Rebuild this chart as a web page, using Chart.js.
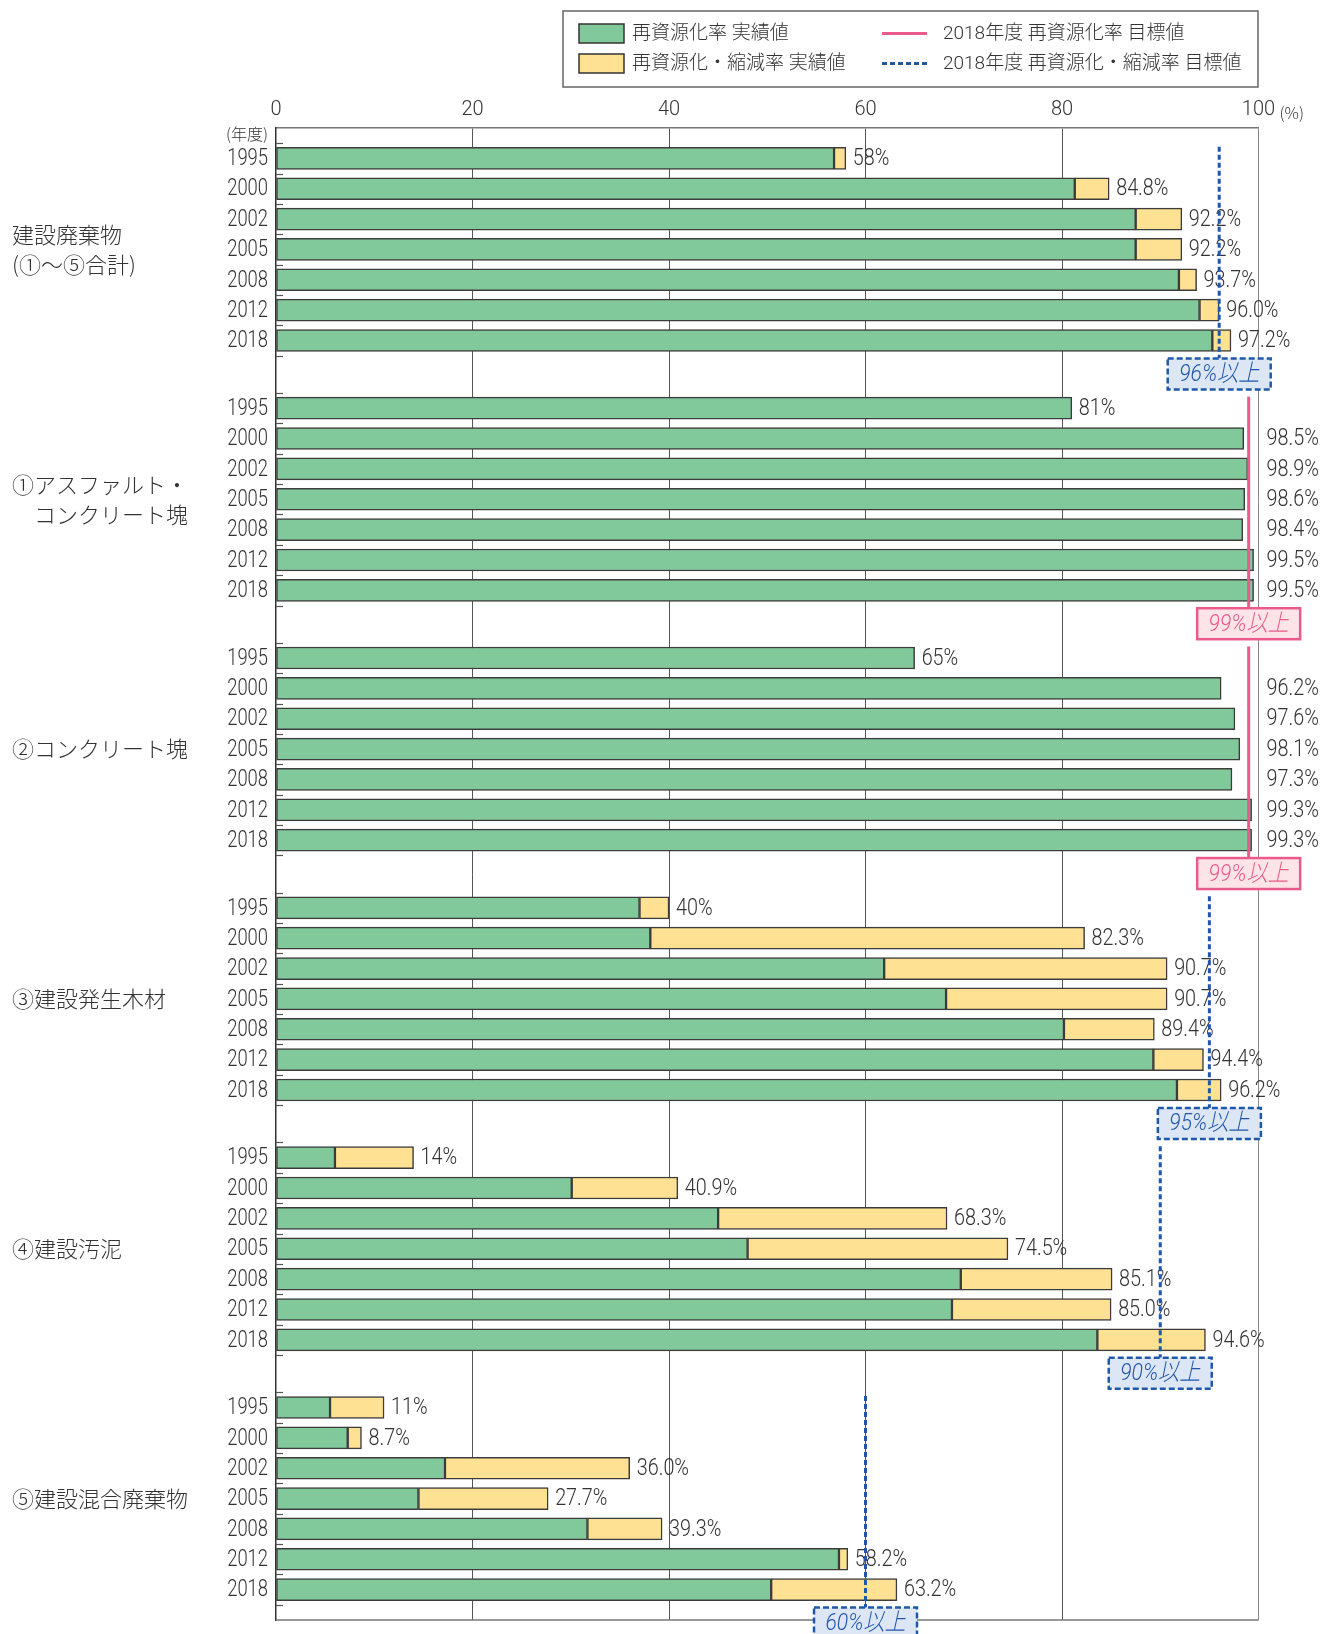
<!DOCTYPE html>
<html lang="ja">
<head>
<meta charset="utf-8">
<title>建設廃棄物の品目別再資源化率等の推移</title>
<script src="https://cdn.jsdelivr.net/npm/chart.js@4.4.1/dist/chart.umd.min.js"></script>
<style>
  html, body { margin: 0; padding: 0; background: #fff; }
  #wrap { position: relative; width: 1322px; height: 1634px; }
</style>
</head>
<body>
<div id="wrap"><canvas id="chart"></canvas></div>
<script>
// 年度
const years = ['1995', '2000', '2002', '2005', '2008', '2012', '2018'];

// 品目（左側の見出し、行ごと）
const groupNames = [
  ['建設廃棄物', '(①〜⑤合計)'],
  ['①アスファルト・', '\u3000コンクリート塊'],
  ['②コンクリート塊'],
  ['③建設発生木材'],
  ['④建設汚泥'],
  ['⑤建設混合廃棄物']
];

// 再資源化率 実績値 (%)
const totalRecycle    = [56.8, 81.3, 87.5, 87.5, 91.9, 94.0, 95.3];
const asphaltRecycle  = [81, 98.5, 98.9, 98.6, 98.4, 99.5, 99.5];
const concreteRecycle = [65, 96.2, 97.6, 98.1, 97.3, 99.3, 99.3];
const woodRecycle     = [37.0, 38.1, 61.9, 68.2, 80.2, 89.3, 91.7];
const sludgeRecycle   = [6.0, 30.1, 45.0, 48.0, 69.7, 68.8, 83.6];
const mixedRecycle    = [5.5, 7.3, 17.2, 14.5, 31.7, 57.3, 50.4];

// 再資源化・縮減率 実績値 (%)
const totalReduce  = [58, 84.8, 92.2, 92.2, 93.7, 96.0, 97.2];
const woodReduce   = [40, 82.3, 90.7, 90.7, 89.4, 94.4, 96.2];
const sludgeReduce = [14, 40.9, 68.3, 74.5, 85.1, 85.0, 94.6];
const mixedReduce  = [11, 8.7, 36.0, 27.7, 39.3, 58.2, 63.2];

// 2018年度 目標値 (%)
const targetRecycle = [null, 99, 99, null, null, null];
const targetReduce  = [96, null, null, 95, 90, 60];

// x軸目盛
const xTicks = [0, 20, 40, 60, 80, 100];

const groupRecycle = [totalRecycle, asphaltRecycle, concreteRecycle, woodRecycle, sludgeRecycle, mixedRecycle];
const groupReduce  = [totalReduce, null, null, woodReduce, sludgeReduce, mixedReduce];

const GREEN = '#81c99b';
const YELLOW = '#fee193';
const PINK = '#ea5a8b';
const BLUE = '#1f58a9';
const TEXT = '#333';
const NUM_FONT = "Roboto, 'Noto Sans CJK JP', sans-serif";
const JP_FONT = "'Noto Sans CJK JP', sans-serif";

// 品目ブロックの間隔（棒1本分を1とする）
const GROUP_STEP = 8.23;

const slots = [];
groupNames.forEach((_, g) => {
  years.forEach((year, i) => slots.push({ g, i, year, pos: g * GROUP_STEP + i }));
});
const yMin = -1;
const yMax = (groupNames.length - 1) * GROUP_STEP + years.length;

const greenData = slots.map(s => ({ x: groupRecycle[s.g][s.i], y: s.pos }));
const yellowData = slots
  .filter(s => groupReduce[s.g])
  .map(s => ({ x: [groupRecycle[s.g][s.i], groupReduce[s.g][s.i]], y: s.pos }));

function fmt(v, i) {
  return (i === 0 ? v.toFixed(0) : v.toFixed(1)) + '%';
}

// 横方向に詰めた文字
function narrowText(ctx, text, x, y, squeeze) {
  ctx.save();
  ctx.translate(x, y);
  ctx.scale(squeeze, 1);
  ctx.fillText(text, 0, 0);
  ctx.restore();
}

function drawBox(ctx, cx, cy, text, color, fill, dashed) {
  const w = 103, h = 31;
  ctx.save();
  ctx.fillStyle = fill;
  ctx.fillRect(cx - w / 2, cy - h / 2, w, h);
  ctx.strokeStyle = color;
  ctx.lineWidth = 2.5;
  ctx.setLineDash(dashed ? [6, 3] : []);
  ctx.strokeRect(cx - w / 2, cy - h / 2, w, h);
  ctx.setLineDash([]);
  ctx.fillStyle = color;
  ctx.font = 'italic 300 24px ' + NUM_FONT;
  ctx.textAlign = 'center';
  ctx.textBaseline = 'middle';
  narrowText(ctx, text, cx, cy + 1, 0.88);
  ctx.restore();
}

// 年度ラベル・目標値の線と枠・数値ラベル・品目名・凡例
const decorPlugin = {
  id: 'decor',
  afterDatasetsDraw(chart) {
    const { ctx, chartArea: area, scales: { x, y } } = chart;
    ctx.save();

    // 下枠
    ctx.strokeStyle = '#777';
    ctx.lineWidth = 1.5;
    ctx.beginPath();
    ctx.moveTo(area.left, area.bottom);
    ctx.lineTo(area.right, area.bottom);
    ctx.stroke();

    // 左端の小さな目盛
    ctx.strokeStyle = '#555';
    ctx.lineWidth = 1.2;
    slots.forEach(s => {
      const marks = s.i === years.length - 1 ? [s.pos - 0.5, s.pos + 0.5] : [s.pos - 0.5];
      marks.forEach(p => {
        const py = Math.round(y.getPixelForValue(p)) + 0.5;
        ctx.beginPath();
        ctx.moveTo(area.left, py);
        ctx.lineTo(area.left + 7, py);
        ctx.stroke();
      });
    });

    ctx.fillStyle = TEXT;
    ctx.font = '300 23px ' + NUM_FONT;
    ctx.textBaseline = 'middle';

    // 年度ラベル（y軸の位置から）
    ctx.textAlign = 'right';
    slots.forEach(s => {
      narrowText(ctx, s.year, area.left - 8, y.getPixelForValue(s.pos) + 1, 0.8);
    });

    // 数値ラベル
    ctx.textAlign = 'left';
    slots.forEach(s => {
      const reduce = groupReduce[s.g];
      const v = reduce ? reduce[s.i] : groupRecycle[s.g][s.i];
      let px = x.getPixelForValue(v) + 7;
      if (!reduce && s.i > 0) px = area.right + 8;
      narrowText(ctx, fmt(v, s.i), px, y.getPixelForValue(s.pos) + 1, 0.86);
    });

    // 2018年度 目標値
    groupNames.forEach((_, g) => {
      const first = g * GROUP_STEP;
      const last = first + years.length - 1;
      const top = y.getPixelForValue(first - 0.38);
      const boxY = y.getPixelForValue(last + 1.1);
      const t = targetRecycle[g] ?? targetReduce[g];
      const isRecycle = targetRecycle[g] != null;
      const px = x.getPixelForValue(t);
      ctx.save();
      ctx.lineWidth = 3;
      if (isRecycle) {
        ctx.strokeStyle = PINK;
      } else {
        ctx.strokeStyle = BLUE;
        ctx.setLineDash([5, 3]);
      }
      ctx.beginPath();
      ctx.moveTo(px, top);
      ctx.lineTo(px, boxY - 15.5);
      ctx.stroke();
      ctx.restore();
      if (isRecycle) {
        drawBox(ctx, px, boxY, t + '%以上', PINK, '#fde4e8', false);
      } else {
        drawBox(ctx, px, boxY, t + '%以上', BLUE, '#dde6f4', true);
      }
    });

    // 品目名
    ctx.fillStyle = TEXT;
    ctx.font = '300 22px ' + JP_FONT;
    ctx.textAlign = 'left';
    ctx.textBaseline = 'middle';
    groupNames.forEach((lines, g) => {
      const cy = y.getPixelForValue(g * GROUP_STEP + 3);
      const lh = 30;
      lines.forEach((line, k) => {
        ctx.fillText(line, 12, cy + (k - (lines.length - 1) / 2) * lh);
      });
    });

    // 軸の単位
    ctx.font = '300 16px ' + JP_FONT;
    ctx.textAlign = 'right';
    ctx.fillText('(年度)', area.left - 8, 134);
    ctx.textAlign = 'left';
    ctx.fillText('(%)', area.right + 21, 113);

    // 凡例
    ctx.strokeStyle = '#666';
    ctx.lineWidth = 1.5;
    ctx.strokeRect(563, 11, 695, 76);

    ctx.lineWidth = 1.5;
    ctx.strokeStyle = '#333';
    ctx.fillStyle = GREEN;
    ctx.fillRect(579, 24, 45, 19);
    ctx.strokeRect(579, 24, 45, 19);
    ctx.fillStyle = YELLOW;
    ctx.fillRect(579, 54, 45, 19);
    ctx.strokeRect(579, 54, 45, 19);

    ctx.lineWidth = 3;
    ctx.strokeStyle = PINK;
    ctx.beginPath();
    ctx.moveTo(882, 33.5);
    ctx.lineTo(927, 33.5);
    ctx.stroke();
    ctx.strokeStyle = BLUE;
    ctx.setLineDash([5, 3]);
    ctx.beginPath();
    ctx.moveTo(882, 63.5);
    ctx.lineTo(927, 63.5);
    ctx.stroke();
    ctx.setLineDash([]);

    ctx.fillStyle = TEXT;
    ctx.font = '300 19px ' + NUM_FONT;
    ctx.textBaseline = 'middle';
    ctx.fillText('再資源化率 実績値', 632, 34);
    ctx.fillText('再資源化・縮減率 実績値', 632, 64);
    ctx.fillText('2018年度 再資源化率 目標値', 943, 34);
    ctx.fillText('2018年度 再資源化・縮減率 目標値', 943, 64);

    ctx.restore();
  }
};

new Chart(document.getElementById('chart'), {
  type: 'bar',
  data: {
    datasets: [
      {
        label: '再資源化率 実績値',
        data: greenData,
        backgroundColor: GREEN
      },
      {
        label: '再資源化・縮減率 実績値',
        data: yellowData,
        backgroundColor: YELLOW
      }
    ]
  },
  options: {
    indexAxis: 'y',
    responsive: true,
    maintainAspectRatio: false,
    animation: false,
    devicePixelRatio: 1,
    layout: { padding: { left: 0, right: 63.5, top: 90, bottom: 14 } },
    datasets: {
      bar: {
        grouped: false,
        barThickness: 22,
        borderWidth: 1.5,
        borderColor: '#3c3c3c',
        borderSkipped: false
      }
    },
    scales: {
      x: {
        type: 'linear',
        position: 'top',
        min: 0,
        max: 100,
        afterBuildTicks: (scale) => { scale.ticks = xTicks.map(v => ({ value: v })); },
        afterFit: (scale) => { scale.height = 38; },
        grid: {
          drawTicks: false,
          lineWidth: 1,
          color: (c) => c.tick && c.tick.value === 100 ? '#888' : (c.tick && c.tick.value === 0 ? 'rgba(0,0,0,0)' : '#555')
        },
        border: { display: true, color: '#777', width: 1.5 },
        ticks: {
          padding: 6,
          color: TEXT,
          font: { family: NUM_FONT, size: 20, weight: 300 }
        }
      },
      y: {
        type: 'linear',
        reverse: true,
        offset: false,
        bounds: 'data',
        grace: 0,
        min: yMin,
        max: yMax,
        afterDataLimits: (scale) => { scale.min = yMin; scale.max = yMax; },
        afterBuildTicks: (scale) => { scale.ticks = slots.map(s => ({ value: s.pos })); },
        afterFit: (scale) => { scale.width = 276; },
        grid: { display: false, drawTicks: false, offset: false },
        border: { display: true, color: '#333', width: 1.5 },
        ticks: { display: false, autoSkip: false }
      }
    },
    plugins: {
      legend: { display: false },
      tooltip: { enabled: false }
    }
  },
  plugins: [decorPlugin]
});
</script>
</body>
</html>
